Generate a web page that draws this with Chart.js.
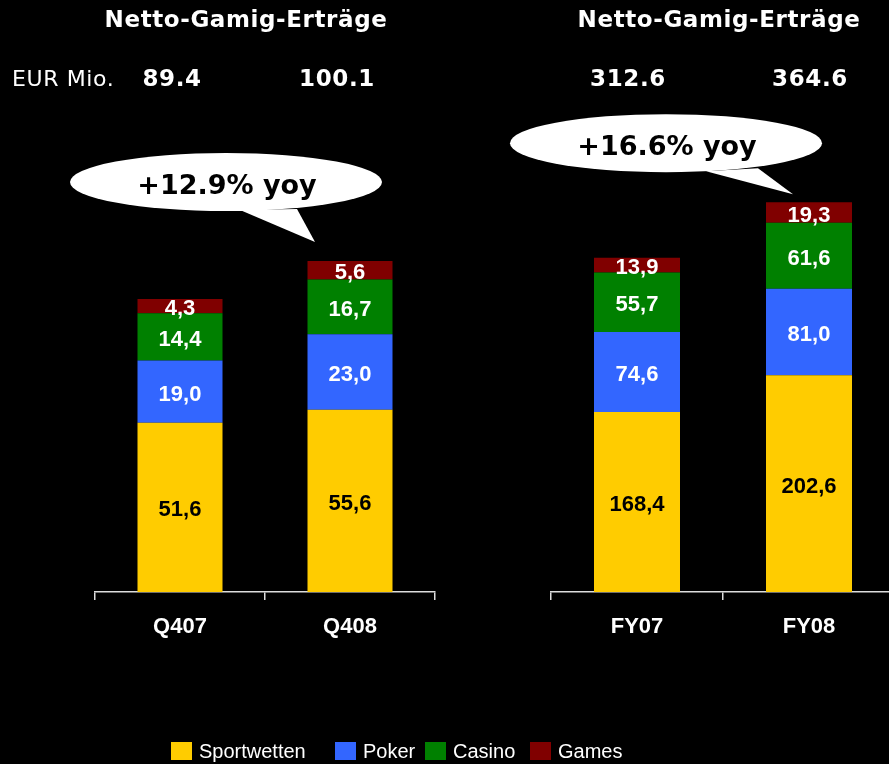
<!DOCTYPE html>
<html>
<head>
<meta charset="utf-8">
<script src="https://cdn.jsdelivr.net/npm/chart.js@4/dist/chart.umd.min.js"></script>
<style>
  html, body { margin: 0; padding: 0; background: #000; width: 889px; height: 764px; overflow: hidden; }
  .box { position: absolute; top: 0; }
  #legend { position: absolute; top: 740px; left: 0; width: 889px; height: 24px; font-family: "Liberation Sans", Arial, sans-serif; font-size: 20px; color: #fff; }
  #legend span.item { position: absolute; top: 0; white-space: nowrap; }
  #legend i { display: inline-block; width: 21px; height: 18px; vertical-align: -2px; margin-right: 7px; }
</style>
</head>
<body>
<div class="box" style="left:0"><canvas id="c1" width="445" height="764"></canvas></div>
<div class="box" style="left:445px"><canvas id="c2" width="460" height="764"></canvas></div>
<div id="legend"></div>
<script>
// * =============== データ =============== *
const seriesNames = ["Sportwetten", "Poker", "Casino", "Games"];
const seriesColors = ["#ffcc00", "#3366ff", "#008000", "#800000"];
const labelColors = ["#000", "#fff", "#fff", "#fff"];

const quarters = ["Q407", "Q408"];
const qSport = [51.6, 55.6];
const qPoker = [19.0, 23.0];
const qCasino = [14.4, 16.7];
const qGames = [4.3, 5.6];
const qTotals = ["89.4", "100.1"];

const years = ["FY07", "FY08"];
const ySport = [168.4, 202.6];
const yPoker = [74.6, 81.0];
const yCasino = [55.7, 61.6];
const yGames = [13.9, 19.3];
const yTotals = ["312.6", "364.6"];

const title = "Netto-Gamig-Erträge";

// * =============== プラグイン =============== *
const textPlugin = {
    id: "texts",
    afterDatasetsDraw(chart, args, opts) {
        const ctx = chart.ctx;
        const xs = chart.scales.x;
        ctx.save();
        // セグメントの数値
        ctx.font = "bold 22px 'Liberation Sans', Arial, sans-serif";
        ctx.textAlign = "center";
        ctx.textBaseline = "middle";
        chart.data.datasets.forEach((ds, i) => {
            chart.getDatasetMeta(i).data.forEach((el, j) => {
                ctx.fillStyle = labelColors[i];
                ctx.fillText(ds.data[j].toFixed(1).replace(".", ","), el.x, (el.y + el.base) / 2 + 3);
            });
        });
        // タイトル・合計
        ctx.fillStyle = "#fff";
        ctx.letterSpacing = "0.6px";
        ctx.font = "bold 23px 'DejaVu Sans', Verdana, sans-serif";
        ctx.fillText(title, opts.titleX, 21);
        opts.totals.forEach((t, j) => {
            ctx.fillText(t, xs.getPixelForValue(j) + opts.totalDx[j], 80);
        });
        if (opts.unit) {
            ctx.font = "22px 'DejaVu Sans', Verdana, sans-serif";
            ctx.textAlign = "left";
            ctx.fillText(opts.unit, 12, 80);
        }
        ctx.letterSpacing = "0px";
        // 吹き出し
        const b = opts.bubble;
        const last = chart.data.labels.length - 1;
        let top = 0;
        chart.data.datasets.forEach(ds => { top += ds.data[last]; });
        const bx = xs.getPixelForValue(last);
        const by = chart.scales.y.getPixelForValue(top);
        ctx.fillStyle = "#fff";
        ctx.beginPath();
        ctx.ellipse(bx + b.cx, by + b.cy, 156, 29, 0, 0, Math.PI * 2);
        ctx.fill();
        ctx.beginPath();
        ctx.moveTo(bx + b.t1[0], by + b.t1[1]);
        ctx.lineTo(bx + b.tip[0], by + b.tip[1]);
        ctx.lineTo(bx + b.t2[0], by + b.t2[1]);
        ctx.closePath();
        ctx.fill();
        ctx.fillStyle = "#000";
        ctx.font = "bold 27px 'DejaVu Sans', Verdana, sans-serif";
        ctx.textAlign = "center";
        ctx.fillText(b.text, bx + b.cx + 1, by + b.cy + 5);
        ctx.restore();
    }
};

function makeChart(id, labels, values, yMax, padLeft, textOpts) {
    return new Chart(document.getElementById(id), {
        type: "bar",
        data: {
            labels: labels,
            datasets: values.map((v, i) => ({
                label: seriesNames[i],
                data: v,
                backgroundColor: seriesColors[i],
                borderWidth: 0,
                barPercentage: 0.5,
                categoryPercentage: 1
            }))
        },
        options: {
            responsive: false,
            animation: false,
            devicePixelRatio: 1,
            layout: { padding: { top: 100, bottom: 122, left: padLeft, right: 10 } },
            scales: {
                x: {
                    stacked: true,
                    afterFit: (axis) => { axis.height = 50; },
                    grid: { drawOnChartArea: false, drawTicks: true, tickLength: 8, color: "#ddd", lineWidth: 1.5 },
                    border: { display: true, color: "#ddd", width: 1.5 },
                    ticks: { color: "#fff", padding: 14, font: { family: "'Liberation Sans', Arial, sans-serif", size: 22, weight: "bold" } }
                },
                y: { stacked: true, display: false, min: 0, max: yMax }
            },
            plugins: {
                legend: { display: false },
                tooltip: { enabled: false },
                texts: textOpts
            }
        },
        plugins: [textPlugin]
    });
}

makeChart("c1", quarters, [qSport, qPoker, qCasino, qGames], 150, 95, {
    titleX: 246, totals: qTotals, totalDx: [-8, -13], unit: "EUR Mio.",
    bubble: { text: "+12.9% yoy", cx: -124, cy: -79, tip: [-35, -19], t1: [-110, -51], t2: [-53, -52] }
});
makeChart("c2", years, [ySport, yPoker, yCasino, yGames], 460, 106, {
    titleX: 274, totals: yTotals, totalDx: [-9, 1], unit: null,
    bubble: { text: "+16.6% yoy", cx: -143, cy: -59, tip: [-16, -8], t1: [-103, -31], t2: [-51, -34] }
});

// * =============== 凡例 =============== *
const legendX = [171, 335, 425, 530];
const legend = document.getElementById("legend");
seriesNames.forEach((name, i) => {
    const s = document.createElement("span");
    s.className = "item";
    s.style.left = legendX[i] + "px";
    s.innerHTML = '<i style="background:' + seriesColors[i] + '"></i>' + name;
    legend.appendChild(s);
});
</script>
</body>
</html>
